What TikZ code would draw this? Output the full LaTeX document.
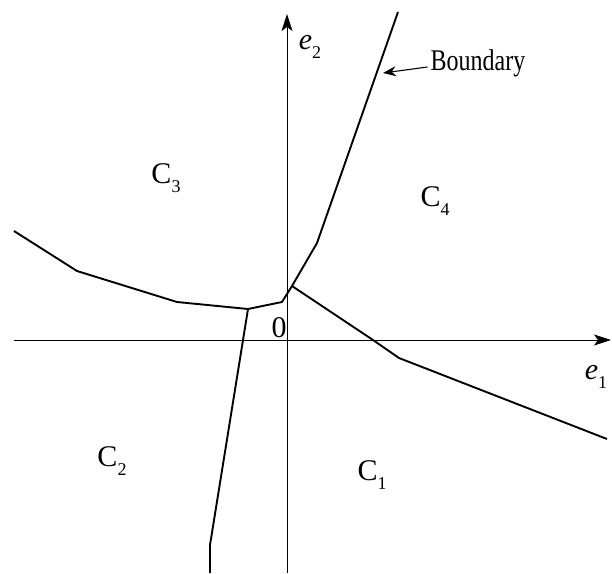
\documentclass[tikz,border=0pt]{standalone}
\usepackage{fontspec}
\setmainfont{Liberation Serif}
\usetikzlibrary{arrows.meta,positioning}
\newcommand{\lowidx}[1]{\raisebox{-0.3em}{\fontsize{18}{18}\selectfont #1}}

\begin{document}
\begin{tikzpicture}[x=1pt,y=-1pt,
    axis/.style={line width=0.8pt,-{Stealth[length=17pt,width=11pt,inset=4pt]}},
    bnd/.style={line width=1.9pt,line join=round},
    lbl/.style={font=\fontsize{30}{30}\selectfont,inner sep=0pt}]
  \useasboundingbox (0,0) rectangle (612,573);
  \coordinate (xl) at (14,340);
  \coordinate (xr) at (611,340);
  \coordinate (yb) at (287,573);
  \coordinate (yt) at (287,14);
  \draw[axis] (xl) -- (xr);
  \draw[axis] (yb) -- (yt);
  \coordinate (jl) at (248,309);
  \coordinate (jr) at (292,286);
  \coordinate (bp) at (383,73);
  \draw[bnd] (14,231) -- (77,271) -- (177,302) -- (jl) -- (282,302) -- (jr);
  \draw[bnd] (jr) -- (317,243) -- (398,12);
  \draw[bnd] (jr) -- (373,340) -- (399,358) -- (607,439);
  \draw[bnd] (jl) -- (210,545) -- (210,573);
  \node[lbl] (c3) at (166,178) {C\lowidx{3}};
  \node[lbl] (c4) at (435,201) {C\lowidx{4}};
  \node[lbl] (c2) at (112,461) {C\lowidx{2}};
  \node[lbl] (c1) at (372,475) {C\lowidx{1}};
  \node[lbl] (o) at (279,328) {0};
  \node[lbl] (e1) at (596,377) {\textit{e}\lowidx{1}};
  \node[lbl] (e2) at (310,47) {\textit{e}\lowidx{2}};
  \node[lbl,xscale=0.8,transform shape] (bd) at (478,63) {Boundary};
  \draw[line width=1.1pt,-{Stealth[length=13pt,width=10pt]}] (bd.west) ++(-3,4) -- (bp);
\end{tikzpicture}
\end{document}
